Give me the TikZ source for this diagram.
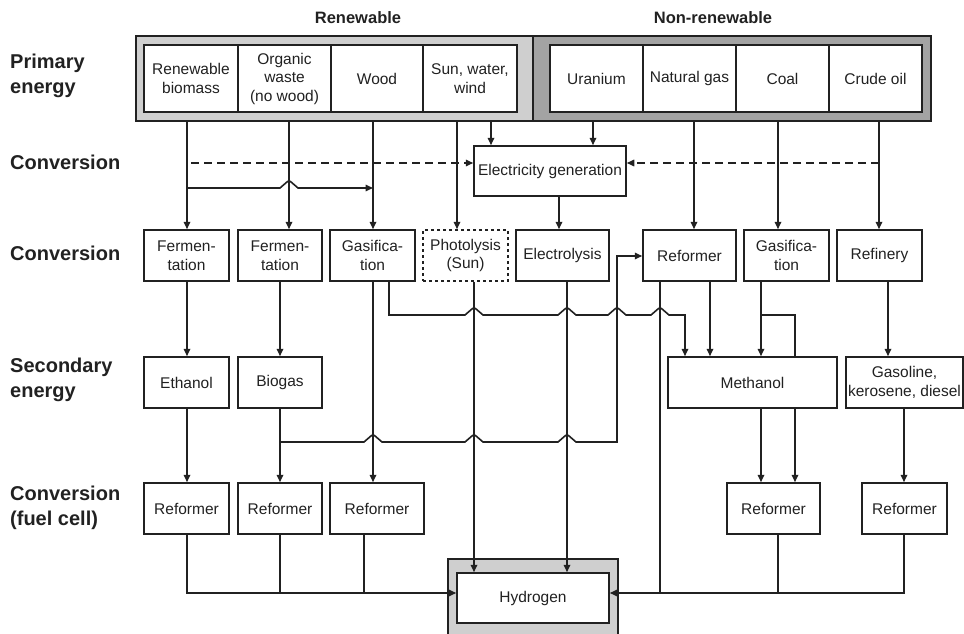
\documentclass[tikz,border=0pt]{standalone}
\usepackage{fontspec}
\setmainfont{Liberation Sans}
\usetikzlibrary{arrows.meta}
\definecolor{ink}{gray}{0.13}
\definecolor{renfill}{gray}{0.81}
\definecolor{nonfill}{gray}{0.64}
% a small bump where a horizontal line crosses a vertical one
\newcommand\hop[2]{-- ({#1-9},#2) -- ({#1-1.5},{#2-6.5}) -- ({#1+1.5},{#2-6.5}) -- ({#1+9},#2)}
\begin{document}
\begin{tikzpicture}[x=1pt,y=-1pt,
  box/.style={draw=ink, line width=1.5pt, fill=white, inner sep=0pt, align=center,
    text=ink, font=\fontsize{15.5}{18.5}\selectfont},
  frame/.style={draw=ink, line width=2pt, inner sep=0pt},
  link/.style={draw=ink, line width=1.6pt},
  flow/.style={link, -{Triangle[length=7.5pt,width=6.5pt]}},
  lvl/.style={anchor=west, align=left, inner sep=0pt, text=ink,
    font=\fontsize{20}{25}\selectfont\bfseries},
  head/.style={inner sep=0pt, text=ink, font=\fontsize{16.5}{20}\selectfont\bfseries},
]
\useasboundingbox (0,0) rectangle (964,634);
\clip (0,0) rectangle (964,634);

% column positions of the connectors
\foreach \n/\x in {187/187,280/280,289/289,364/364,373/373,389/389,457/457,474/474,
  491/491,559/559,567/567,593/593,617/617,660/660,685/685,694/694,710/710,761/761,
  778/778,795/795,879/879,888/888,904/904}
  \coordinate (c\n) at (\x,0);
\coordinate (bus) at (0,593);

% headings
\node[head] (hren) at (358,18) {Renewable};
\node[head] (hnon) at (713,18) {Non-renewable};

% level labels
\node[lvl] (l1) at (10,76) {Primary\\energy};
\node[lvl] (l2) at (10,162) {Conversion};
\node[lvl] (l3) at (10,253) {Conversion};
\node[lvl] (l4) at (10,380) {Secondary\\energy};
\node[lvl] (l5) at (10,508) {Conversion\\(fuel cell)};

% primary energy frames
\node[frame, fill=renfill, minimum width=397pt, minimum height=85pt] (ren) at (334.5,78.5) {};
\node[frame, fill=nonfill, minimum width=398pt, minimum height=85pt] (non) at (732,78.5) {};

\node[box, minimum width=94pt, minimum height=67pt] (rb) at (191,78.5) {Renewable\\biomass};
\node[box, minimum width=93pt, minimum height=67pt] (ow) at (284.5,78.5) {Organic\\waste\\(no wood)};
\node[box, minimum width=92pt, minimum height=67pt] (wood) at (377,78.5) {Wood};
\node[box, minimum width=94pt, minimum height=67pt] (sun) at (470,78.5) {Sun, water,\\wind};
\node[box, minimum width=93pt, minimum height=67pt] (ur) at (596.5,78.5) {Uranium};
\node[box, minimum width=93pt, minimum height=67pt] (ng) at (689.5,78.5) {Natural gas};
\node[box, minimum width=93pt, minimum height=67pt] (coal) at (782.5,78.5) {Coal};
\node[box, minimum width=93pt, minimum height=67pt] (crude) at (875.5,78.5) {Crude oil};

% electricity generation
\node[box, minimum width=152pt, minimum height=50pt] (elec) at (550,171) {Electricity generation};

% conversion row
\node[box, minimum width=85pt, minimum height=51pt] (f1) at (186.5,255.5) {Fermen-\\tation};
\node[box, minimum width=84pt, minimum height=51pt] (f2) at (280,255.5) {Fermen-\\tation};
\node[box, minimum width=85pt, minimum height=51pt] (gas1) at (372.5,255.5) {Gasifica-\\tion};
\node[box, dash pattern=on 3pt off 3pt, minimum width=85pt, minimum height=51pt] (photo) at (465.5,255.5) {Photolysis\\(Sun)};
\node[box, minimum width=93pt, minimum height=51pt] (elys) at (562.5,255.5) {Electrolysis};
\node[box, minimum width=93pt, minimum height=51pt] (ref) at (689.5,255.5) {Reformer};
\node[box, minimum width=85pt, minimum height=51pt] (gas2) at (786.5,255.5) {Gasifica-\\tion};
\node[box, minimum width=85pt, minimum height=51pt] (refin) at (879.5,255.5) {Refinery};

% secondary energy row
\node[box, minimum width=85pt, minimum height=51pt] (eth) at (186.5,382.5) {Ethanol};
\node[box, minimum width=84pt, minimum height=51pt] (biog) at (280,382.5) {Biogas};
\node[box, minimum width=169pt, minimum height=51pt] (meth) at (752.5,382.5) {Methanol};
\node[box, minimum width=117pt, minimum height=51pt] (gasol) at (904.5,382.5) {Gasoline,\\kerosene, diesel};

% fuel cell reformers
\node[box, minimum width=85pt, minimum height=51pt] (r1) at (186.5,508.5) {Reformer};
\node[box, minimum width=84pt, minimum height=51pt] (r2) at (280,508.5) {Reformer};
\node[box, minimum width=94pt, minimum height=51pt] (r3) at (377,508.5) {Reformer};
\node[box, minimum width=93pt, minimum height=51pt] (r4) at (773.5,508.5) {Reformer};
\node[box, minimum width=85pt, minimum height=51pt] (r5) at (904.5,508.5) {Reformer};

% hydrogen
\node[frame, fill=renfill, minimum width=170pt, minimum height=84pt] (h2frame) at (533,601) {};
\node[box, minimum width=152pt, minimum height=50pt] (h2) at (533,598) {Hydrogen};

% primary energy to conversion
\draw[flow] (ren.south -| c187) -- (f1.north -| c187);
\draw[flow] (ren.south -| c289) -- (f2.north -| c289);
\draw[flow] (ren.south -| c373) -- (gas1.north -| c373);
\draw[flow] (ren.south -| c457) -- (photo.north -| c457);
\draw[flow] (ren.south -| c491) -- (elec.north -| c491);
\draw[flow] (non.south -| c593) -- (elec.north -| c593);
\draw[flow] (non.south -| c694) -- (ref.north -| c694);
\draw[flow] (non.south -| c778) -- (gas2.north -| c778);
\draw[flow] (non.south -| c879) -- (refin.north -| c879);

\coordinate (dl) at (191,163);
\coordinate (dr) at (879,163);
\draw[flow, dash pattern=on 8pt off 5pt] (dl) -- (dl -| elec.west);
\draw[flow, dash pattern=on 8pt off 5pt] (dr) -- (dr -| elec.east);

\coordinate (s1) at (187,188);
\draw[flow] (s1) \hop{289}{188} -- (s1 -| c373);

\draw[flow] (elec.south -| c559) -- (elys.north -| c559);

% conversion to secondary energy
\draw[flow] (f1.south -| c187) -- (eth.north -| c187);
\draw[flow] (f2.south) -- (biog.north);
\draw[flow] (gas1.south -| c373) -- (r3.north -| c373);
\draw[flow] (gas1.south -| c389) -- (389,315) \hop{474}{315} \hop{567}{315} \hop{617}{315}
  \hop{660}{315} -- (685,315) -- (meth.north -| c685);
\draw[flow] (ref.south -| c710) -- (meth.north -| c710);
\draw[flow] (gas2.south -| c761) -- (meth.north -| c761);
\draw[link] (761,315) -- (795,315) -- (meth.north -| c795);
\draw[flow] (refin.south -| c888) -- (gasol.north -| c888);

% secondary energy to reformers
\draw[flow] (eth.south -| c187) -- (r1.north -| c187);
\draw[flow] (biog.south) -- (r2.north);
\draw[flow] (280,442) \hop{373}{442} \hop{474}{442} \hop{567}{442} -- (617,442)
  -- (617,256) -- (ref.west |- 0,256);
\draw[flow] (meth.south -| c761) -- (r4.north -| c761);
\draw[flow] (meth.south -| c795) -- (r4.north -| c795);
\draw[flow] (gasol.south -| c904) -- (r5.north -| c904);

% routes into hydrogen
\draw[flow] (photo.south -| c474) -- (h2.north -| c474);
\draw[flow] (elys.south -| c567) -- (h2.north -| c567);
\draw[flow] (r1.south -| c187) -- (bus -| c187) -- (bus -| h2.west);
\draw[link] (r2.south) -- (bus -| c280);
\draw[link] (r3.south -| c364) -- (bus -| c364);
\draw[flow] (r5.south -| c904) -- (bus -| c904) -- (bus -| h2.east);
\draw[link] (r4.south -| c778) -- (bus -| c778);
\draw[link] (ref.south -| c660) -- (bus -| c660);
\end{tikzpicture}
\end{document}
